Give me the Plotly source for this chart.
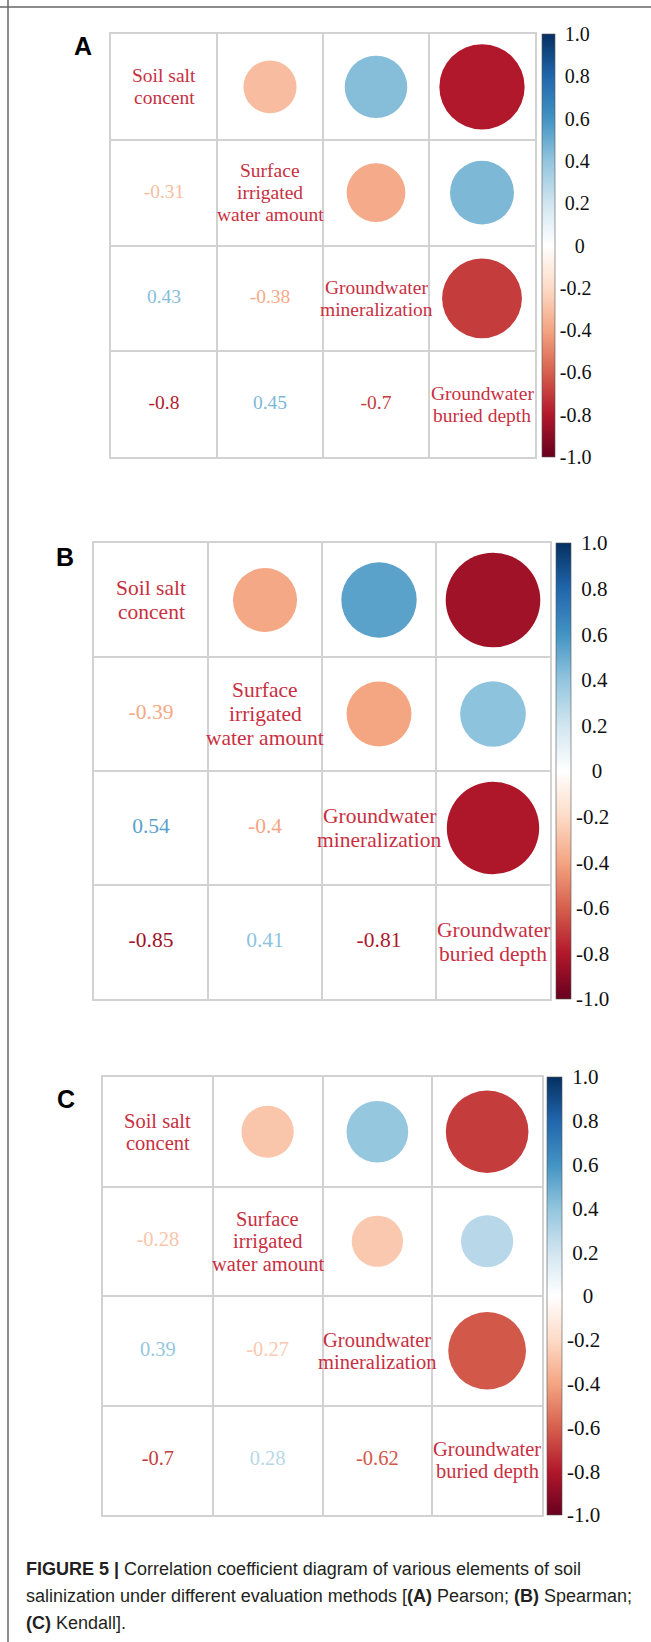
import plotly.graph_objects as go
from plotly.colors import sample_colorscale

# ---- data -----------------------------------------------------------------
variables = [
    ["Soil salt", "concent"],
    ["Surface", "irrigated", "water amount"],
    ["Groundwater", "mineralization"],
    ["Groundwater", "buried depth"],
]

# lower-triangle pairs (row, col) in reading order
pairs = [(1, 0), (2, 0), (2, 1), (3, 0), (3, 1), (3, 2)]

pearson = [-0.31, 0.43, -0.38, -0.8, 0.45, -0.7]
spearman = [-0.39, 0.54, -0.4, -0.85, 0.41, -0.81]
kendall = [-0.28, 0.39, -0.27, -0.7, 0.28, -0.62]

panel_letters = ["A", "B", "C"]
cbar_ticks = [-1.0, -0.8, -0.6, -0.4, -0.2, 0.0, 0.2, 0.4, 0.6, 0.8, 1.0]
cbar_labels = ["-1.0", "-0.8", "-0.6", "-0.4", "-0.2", "0", "0.2", "0.4", "0.6", "0.8", "1.0"]

caption_lines = [
    "<b>FIGURE 5 |</b> Correlation coefficient diagram of various elements of soil",
    "salinization under different evaluation methods [<b>(A)</b> Pearson; <b>(B)</b> Spearman;",
    "<b>(C)</b> Kendall].",
]

# ---- styling ----------------------------------------------------------------
W, H = 651, 1642
rdbu = ["#67001F", "#B2182B", "#D6604D", "#F4A582", "#FDDBC7", "#FFFFFF",
        "#D1E5F0", "#92C5DE", "#4393C3", "#2166AC", "#053061"]
colorscale = [[i / 10, c] for i, c in enumerate(rdbu)]
label_color = "#C8303F"
serif = "Liberation Serif, Times New Roman, serif"
sans = "Liberation Sans, Arial, sans-serif"

# pixel boxes of each panel: grid (x0, x1, y0, y1), colorbar x0, thickness,
# font size, line spacing, colorbar font size, letter position
panels = [
    dict(grid=(111, 535, 34, 457), cbx=542, cbw=13, fs=19.5, ls=22, cfs=20, letter=(83, 46)),
    dict(grid=(94, 550, 543, 999), cbx=556, cbw=15, fs=21.5, ls=24, cfs=21, letter=(65, 557)),
    dict(grid=(103, 542, 1077, 1515), cbx=547, cbw=15, fs=20.5, ls=22.5, cfs=21, letter=(66, 1099)),
]
datasets = [pearson, spearman, kendall]


def color_of(v):
    return sample_colorscale(colorscale, [(v + 1) / 2])[0]


def tick_text(lbl):
    if lbl == "0":
        return "\u00a0\u00a0\u00a0" + lbl
    if not lbl.startswith("-"):
        return "\u00a0" + lbl
    return lbl


fig = go.Figure()
shapes = []
annotations = []

for k, (p, vals) in enumerate(zip(panels, datasets)):
    n = k + 1
    xa = "x" if n == 1 else f"x{n}"
    ya = "y" if n == 1 else f"y{n}"
    gx0, gx1, gy0, gy1 = p["grid"]

    axis_common = dict(
        tickvals=[1, 2, 3], showticklabels=False, ticks="",
        showgrid=True, gridcolor="#d2d2d2", gridwidth=1.5,
        showline=True, linecolor="#d2d2d2", linewidth=1.5, mirror=True,
        zeroline=False, fixedrange=True,
    )
    fig.update_layout({
        f"xaxis{'' if n == 1 else n}": dict(
            domain=[gx0 / W, gx1 / W], range=[0, 4], anchor=ya, **axis_common),
        f"yaxis{'' if n == 1 else n}": dict(
            domain=[1 - gy1 / H, 1 - gy0 / H], range=[4, 0], anchor=xa, **axis_common),
    })

    # circles in the upper triangle (mirror of the lower triangle values)
    for (r, c), v in zip(pairs, vals):
        rad = 0.45 * abs(v) ** 0.5
        cx, cy = r + 0.5, c + 0.5  # transpose: column r, row c
        shapes.append(dict(
            type="circle", xref=xa, yref=ya,
            x0=cx - rad, x1=cx + rad, y0=cy - rad, y1=cy + rad,
            fillcolor=color_of(v), line=dict(width=0), layer="above",
        ))

    # coefficient values in the lower triangle + colorbar
    fig.add_trace(go.Scatter(
        x=[c + 0.5 for r, c in pairs],
        y=[r + 0.5 for r, c in pairs],
        xaxis=xa, yaxis=ya,
        mode="markers+text",
        text=[f"{v:g}" for v in vals],
        textposition="middle center",
        textfont=dict(family=serif, size=p["fs"], color=[color_of(v) for v in vals]),
        marker=dict(
            size=1, opacity=0,
            color=vals, colorscale=colorscale, cmin=-1, cmax=1, showscale=True,
            colorbar=dict(
                x=p["cbx"] / W, xanchor="left", xpad=0,
                y=1 - (gy0 + gy1) / 2 / H, yanchor="middle", ypad=0,
                len=gy1 - gy0, lenmode="pixels",
                thickness=p["cbw"], thicknessmode="pixels",
                outlinewidth=0.6, outlinecolor="#555555",
                tickvals=cbar_ticks, ticktext=[tick_text(t) for t in cbar_labels],
                ticks="",
                tickfont=dict(family=serif, size=p["cfs"], color="#111111"),
            ),
        ),
        hoverinfo="skip", showlegend=False,
    ))

    # variable names on the diagonal
    for i, lines in enumerate(variables):
        nl = len(lines)
        for j, line in enumerate(lines):
            annotations.append(dict(
                x=i + 0.5, y=i + 0.5, xref=xa, yref=ya,
                text=line, showarrow=False,
                xanchor="center", yanchor="middle",
                yshift=((nl - 1) / 2 - j) * p["ls"],
                font=dict(family=serif, size=p["fs"], color=label_color),
            ))

    # panel letter
    lx, ly = p["letter"]
    annotations.append(dict(
        x=lx / W, y=1 - ly / H, xref="paper", yref="paper",
        text=f"<b>{panel_letters[k]}</b>", showarrow=False,
        xanchor="center", yanchor="middle",
        font=dict(family=sans, size=25, color="#000000"),
    ))

# caption
for j, line in enumerate(caption_lines):
    annotations.append(dict(
        x=24 / W, y=1 - (1569 + 27 * j) / H, xref="paper", yref="paper",
        text=line, showarrow=False, xanchor="left", yanchor="middle",
        font=dict(family=sans, size=18, color="#231F20"),
    ))

# page frame (top and left rules)
shapes.append(dict(type="line", xref="paper", yref="paper",
                   x0=0, x1=1, y0=1 - 7 / H, y1=1 - 7 / H,
                   line=dict(color="#666666", width=1.5)))
shapes.append(dict(type="line", xref="paper", yref="paper",
                   x0=8 / W, x1=8 / W, y0=0, y1=1,
                   line=dict(color="#666666", width=1.5)))

fig.update_layout(
    width=W, height=H,
    margin=dict(l=0, r=0, t=0, b=0),
    paper_bgcolor="white", plot_bgcolor="white",
    shapes=shapes, annotations=annotations,
    showlegend=False,
)

fig.write_html("out.html")
